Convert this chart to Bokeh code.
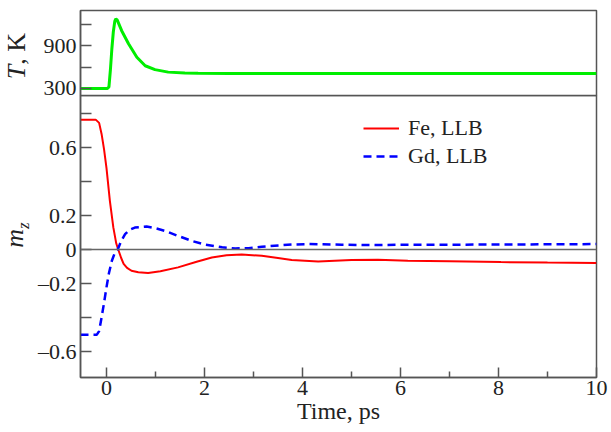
from bokeh.plotting import figure
from bokeh.layouts import column, row
from bokeh.models import (Range1d, FixedTicker, Span, Legend, LegendItem, Div)
from bokeh.embed import file_html
from bokeh.resources import INLINE

# ---------------- data ----------------
t_T = [-0.53, 0.02, 0.05, 0.08, 0.11, 0.14, 0.17, 0.19, 0.22, 0.31, 0.45, 0.62,
       0.79, 0.99, 1.26, 1.6, 1.87, 2.5, 4.0, 10.0]
T_vals = [300, 300, 320, 560, 860, 1100, 1250, 1280, 1265, 1115, 930, 740,
          620, 565, 530, 518, 515, 512, 510, 510]

t_fe = [-0.53, -0.22, -0.15, -0.1, -0.05, 0.0, 0.07, 0.14, 0.2, 0.24, 0.3, 0.35,
        0.42, 0.51, 0.65, 0.85, 1.1, 1.46, 1.84, 2.15, 2.45, 2.76, 3.17, 3.5,
        3.78, 4.32, 5.0, 5.54, 6.15, 7.0, 8.05, 9.0, 10.0]
mz_fe = [0.764, 0.764, 0.745, 0.68, 0.59, 0.48, 0.285, 0.13, 0.035, 0.0, -0.05, -0.084,
         -0.108, -0.125, -0.134, -0.138, -0.128, -0.105, -0.072, -0.047, -0.034, -0.029,
         -0.037, -0.05, -0.062, -0.07, -0.062, -0.06, -0.066, -0.069, -0.074, -0.077, -0.08]

t_gd = [-0.53, -0.2, -0.15, -0.1, -0.05, 0.0, 0.05, 0.11, 0.17, 0.23, 0.3, 0.38,
        0.47, 0.58, 0.82, 1.0, 1.19, 1.46, 1.75, 2.02, 2.36, 2.63, 2.9, 3.17,
        3.51, 3.78, 4.12, 4.8, 5.47, 6.08, 8.0, 10.0]
mz_gd = [-0.502, -0.502, -0.48, -0.40, -0.315, -0.223, -0.14, -0.066, -0.02, 0.0, 0.05, 0.09,
         0.115, 0.129, 0.135, 0.125, 0.11, 0.08, 0.05, 0.028, 0.013, 0.006, 0.008, 0.016,
         0.024, 0.029, 0.032, 0.028, 0.026, 0.028, 0.029, 0.032]

x_ticks = [0, 2, 4, 6, 8, 10]
x_minor = [1, 3, 5, 7, 9]
T_ticks = [300, 600, 900, 1200]
T_labels = {300: "300", 600: "", 900: "900", 1200: ""}
m_ticks = [-0.6, -0.4, -0.2, 0, 0.2, 0.4, 0.6, 0.8]
m_labels = {-0.6: "\u20130.6", -0.4: "", -0.2: "\u20130.2", 0: "0", 0.2: "0.2",
            0.4: "", 0.6: "0.6", 0.8: ""}

FONT = "Liberation Serif"
FRAME = "#555555"
TXT = "#222222"
LBL_W = 34
W = 611 - LBL_W
L_BORDER = 78 - LBL_W
R_BORDER = 15
OVER = 6            # overlap so the "300" label is not clipped
H1 = 95 + OVER
H2 = 337

x_range = Range1d(-0.53, 10)

def style_axis(ax, size="22px"):
    ax.major_label_text_font = FONT
    ax.major_label_text_font_style = "normal"
    ax.major_label_text_font_size = size
    ax.major_label_text_color = TXT
    ax.axis_line_color = FRAME
    ax.axis_line_width = 1.5
    ax.major_tick_line_color = FRAME
    ax.minor_tick_line_color = FRAME
    ax.major_tick_line_width = 1.5
    ax.minor_tick_line_width = 1.5
    ax.major_tick_out = 0
    ax.minor_tick_out = 0

def side_label(html, height, pad_top, pad_bottom):
    box = ("width:%dpx;height:%dpx;padding-top:%dpx;padding-bottom:%dpx;box-sizing:border-box;"
           "display:flex;align-items:center;justify-content:center;overflow:visible;"
           % (LBL_W, height, pad_top, pad_bottom))
    span = ("display:inline-block;transform:rotate(-90deg);white-space:nowrap;"
            "font-family:'Liberation Serif',serif;font-size:26px;color:%s;line-height:1;" % TXT)
    return Div(text='<div style="%s"><span style="%s">%s</span></div>' % (box, span, html),
               width=LBL_W, height=height, margin=0)

# ---------------- top panel ----------------
p1 = figure(width=W, height=H1, x_range=x_range, y_range=Range1d(200, 1400),
            output_backend="svg", toolbar_location=None,
            min_border_left=L_BORDER, min_border_right=R_BORDER,
            min_border_top=10, min_border_bottom=OVER)
p1.xaxis.visible = False
p1.grid.visible = False
p1.outline_line_color = FRAME
p1.outline_line_width = 1.5
ya = p1.yaxis[0]
ya.ticker = FixedTicker(ticks=T_ticks, minor_ticks=[])
ya.major_label_overrides = T_labels
style_axis(ya)
ya.major_tick_in = 11
ya.major_label_standoff = 4
p1.line(t_T, T_vals, color="#00ee00", line_width=3)

# ---------------- bottom panel ----------------
p2 = figure(width=W, height=H2, x_range=x_range, y_range=Range1d(-0.753, 0.906),
            output_backend="svg", toolbar_location=None,
            min_border_left=L_BORDER, min_border_right=R_BORDER,
            min_border_top=0, min_border_bottom=55, margin=(-OVER, 0, 0, 0))
p2.grid.visible = False
p2.background_fill_alpha = 0
p2.border_fill_alpha = 0
p2.outline_line_color = FRAME
p2.outline_line_width = 1.5
xa = p2.xaxis[0]
xa.ticker = FixedTicker(ticks=x_ticks, minor_ticks=x_minor)
style_axis(xa)
xa.major_tick_in = 10
xa.minor_tick_in = 6
xa.major_label_standoff = 3
xa.axis_label = "Time, ps"
xa.axis_label_text_font = FONT
xa.axis_label_text_font_style = "normal"
xa.axis_label_text_font_size = "24px"
xa.axis_label_text_color = TXT
xa.axis_label_standoff = 0

yb = p2.yaxis[0]
yb.ticker = FixedTicker(ticks=m_ticks, minor_ticks=[])
yb.major_label_overrides = m_labels
style_axis(yb)
yb.major_tick_in = 11
yb.major_label_standoff = 4

p2.add_layout(Span(location=0, dimension="width", line_color="#666666", line_width=1.5))

r_fe = p2.line(t_fe, mz_fe, color="#ff0000", line_width=2)
r_gd = p2.line(t_gd, mz_gd, color="#0000ff", line_width=2.5, line_dash="8 5")

legend = Legend(items=[LegendItem(label="Fe, LLB", renderers=[r_fe]),
                       LegendItem(label="Gd, LLB", renderers=[r_gd])],
                location=(283, 208))
legend.label_text_font = FONT
legend.label_text_font_size = "22px"
legend.label_text_color = TXT
legend.border_line_color = None
legend.background_fill_alpha = 0
legend.padding = 0
legend.margin = 0
legend.spacing = 2
legend.glyph_width = 36
legend.glyph_height = 20
legend.label_height = 20
legend.label_standoff = 9
p2.add_layout(legend)

lab_T = side_label("<i>T</i>, K", 95, 17, 0)
lab_m = side_label('<i>m<sub style="font-size:17px">z</sub></i>', 337, 0, 57)

layout = row(column(lab_T, lab_m, spacing=0), column(p1, p2, spacing=0), spacing=0)
open("out.html", "w").write(file_html(layout, INLINE))
